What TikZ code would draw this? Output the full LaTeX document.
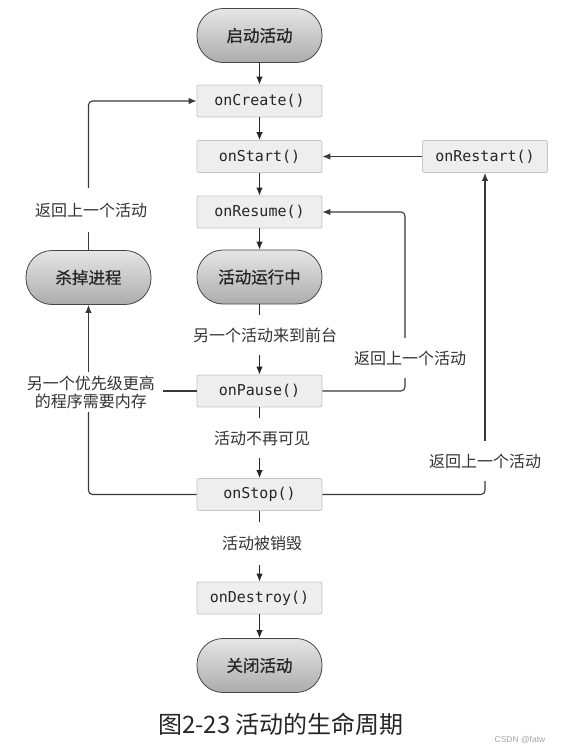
\documentclass[tikz,border=0pt]{standalone}
\usepackage{fontspec}
\setmonofont{DejaVu Sans Mono}
\newfontfamily\cjk{Noto Sans CJK SC}
\newfontfamily\cjkb[FakeBold=0.8]{Noto Sans CJK SC}
\newfontfamily\wm{Liberation Sans}
\usetikzlibrary{arrows.meta,calc}
\begin{document}
\begin{tikzpicture}[x=1pt,y=1pt,
  box/.style={draw=gray!45, fill=gray!13, rounded corners=2pt, line width=0.8pt,
    minimum width=125pt, minimum height=32pt, inner sep=0pt,
    font=\ttfamily\fontsize{15}{18}\selectfont, text=black!85},
  pill/.style={draw=gray!55!black, line width=0.8pt, top color=gray!20, bottom color=gray!65,
    rounded corners=26pt, minimum width=125pt, minimum height=54pt, inner sep=0pt,
    font=\cjkb\fontsize{16.5}{20}\selectfont, text=black!85},
  lbl/.style={font=\cjk\fontsize{16}{18}\selectfont, text=black!80, inner xsep=4pt,
    inner ysep=0pt, minimum height=40pt},
  ln/.style={line width=1.1pt, draw=black!85},
  lp/.style={line width=1.1pt, draw=gray!45!black, rounded corners=4pt},
  arr/.style={-{Latex[length=8pt,width=6.5pt]}}
]
\useasboundingbox[fill=white] (0,0) rectangle (563,-753);

% main column
\node[pill] (start) at (259.5,-35.5) {启动活动};
\node[box] (create) at (259.5,-101) {onCreate()};
\node[box] (onstart) at (259.5,-156.5) {onStart()};
\node[box] (restart) at (485,-156.5) {onRestart()};
\node[box] (resume) at (259.5,-212) {onResume()};
\node[pill] (running) at (259.5,-277) {活动运行中};
\node[box] (pause) at (259.5,-391) {onPause()};
\node[box] (stop) at (259.5,-494.5) {onStop()};
\node[box] (destroy) at (259.5,-598) {onDestroy()};
\node[pill] (close) at (259.5,-665.5) {关闭活动};
\node[pill] (kill) at (88.5,-277.5) {杀掉进程};

% labels
\node[lbl] (fore) at (265,-335) {另一个活动来到前台};
\node[lbl] (invis) at (262,-438) {活动不再可见};
\node[lbl, minimum height=43pt] (gone) at (262,-543.5) {活动被销毁};
\node[lbl, minimum height=44pt] (back1) at (91,-210) {返回上一个活动};
\node[lbl] (back2) at (410,-358) {返回上一个活动};
\node[lbl] (back3) at (485,-461) {返回上一个活动};
\node[lbl, align=center, inner xsep=8pt, minimum height=40pt] (mem) at (91,-392)
  {另一个优先级更高\\的程序需要内存};
\coordinate (rx) at (405,0);

% central arrows
\draw[ln,arr] (start) -- (create);
\draw[ln,arr] (create) -- (onstart);
\draw[ln,arr] (onstart) -- (resume);
\draw[ln,arr] (resume) -- (running);
\draw[ln] (running.south) -- (running.south |- fore.north);
\draw[ln,arr] (pause.north |- fore.south) -- (pause.north);
\draw[ln] (pause.south) -- (pause.south |- invis.north);
\draw[ln,arr] (stop.north |- invis.south) -- (stop.north);
\draw[ln] (stop.south) -- (stop.south |- gone.north);
\draw[ln,arr] (destroy.north |- gone.south) -- (destroy.north);
\draw[ln,arr] (destroy) -- (close);

% restart
\draw[lp,arr] (restart.west) -- (onstart.east);
\draw[lp] (stop.east) -| (restart.south |- back3.south);
\draw[lp,arr] (restart.south |- back3.north) -- (restart.south);

% resume loop
\draw[lp] (pause.east) -| (rx |- back2.south);
\draw[lp,arr] (rx |- back2.north) |- (resume.east);

% kill loop
\draw[lp] (pause.west) -- (pause.west -| mem.east);
\draw[lp] (stop.west) -| (kill.south |- mem.south);
\draw[lp,arr] (kill.south |- mem.north) -- (kill.south);
\draw[lp] (kill.north) -- (kill.north |- back1.south);
\draw[lp,arr] (kill.north |- back1.north) |- (create.west);

% caption
\node[font=\cjk\fontsize{24}{28}\selectfont, text=black!85] (cap) at (281,-724) {图2-23 活动的生命周期};
\node[font=\wm\fontsize{8.5}{10}\selectfont, text=gray!70] (wmk) at (520,-740) {CSDN @fatw};
\end{tikzpicture}
\end{document}
